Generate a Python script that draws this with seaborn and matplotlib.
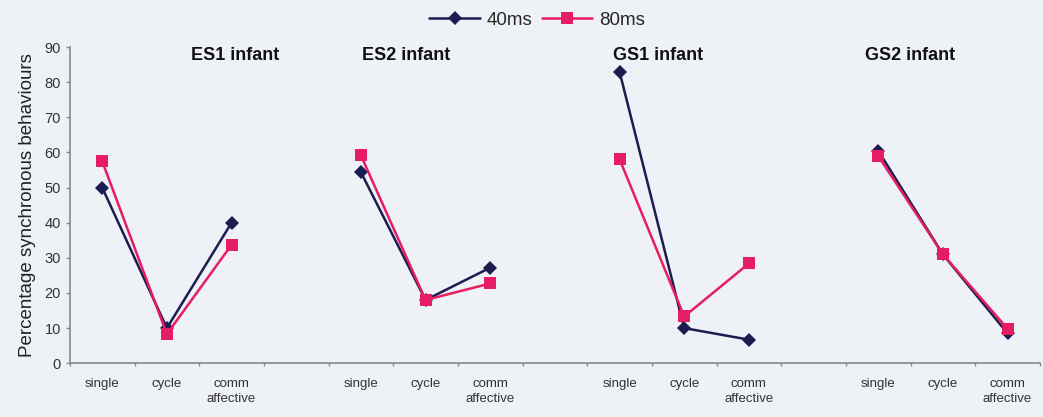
import pandas as pd
import seaborn as sns
import matplotlib.pyplot as plt
import numpy as np

# Data
groups = ['ES1 infant', 'ES2 infant', 'GS1 infant', 'GS2 infant']
behaviours = ['single', 'cycle', 'comm\naffective']
series = ['40ms', '80ms']

es1_40 = [50, 10, 40]
es1_80 = [57.5, 8.3, 33.7]
es2_40 = [54.4, 18, 27.2]
es2_80 = [59.2, 18, 22.7]
gs1_40 = [83, 10, 6.7]
gs1_80 = [58.1, 13.3, 28.4]
gs2_40 = [60.5, 31, 8.5]
gs2_80 = [59, 31, 9.8]

values = {
    '40ms': [es1_40, es2_40, gs1_40, gs2_40],
    '80ms': [es1_80, es2_80, gs1_80, gs2_80],
}

# long table, one empty category between groups
rows = []
for s in series:
    for g, grp in enumerate(groups):
        for b, beh in enumerate(behaviours):
            rows.append({'pos': g * (len(behaviours) + 1) + b, 'group': grp,
                         'behaviour': beh, 'series': s, 'value': values[s][g][b]})
df = pd.DataFrame(rows)
n_cat = len(groups) * (len(behaviours) + 1) - 1

sns.set_theme(style='white')
plt.rcParams['font.family'] = ['Liberation Sans', 'DejaVu Sans']

bg = '#eef1f6'
colors = {'40ms': '#1c1c50', '80ms': '#e61d64'}

fig, ax = plt.subplots(figsize=(10.43, 4.17), dpi=100)
fig.patch.set_facecolor(bg)
ax.set_facecolor(bg)
fig.subplots_adjust(left=0.067, right=0.997, bottom=0.129, top=0.887)

sns.lineplot(data=df, x='pos', y='value', hue='series', style='series',
             units='group', estimator=None, palette=colors,
             markers={'40ms': 'D', '80ms': 's'}, dashes=False,
             linewidth=1.8, markersize=8, markeredgewidth=0, ax=ax, legend=False)
# diamonds a bit smaller than squares
for line in ax.get_lines():
    if line.get_marker() == 'D':
        line.set_markersize(7)
    elif line.get_marker() == 's':
        line.set_markersize(9)

ax.set_xlim(-0.5, n_cat - 0.5)
ax.set_ylim(0, 90)
ax.set_yticks(np.arange(0, 91, 10))
ax.set_ylabel('Percentage synchronous behaviours', fontsize=13.5, color='#222222',
              labelpad=6)
ax.set_xlabel('')

pos_labels = df[df['series'] == '40ms']
ax.set_xticks(pos_labels['pos'])
ax.set_xticklabels(pos_labels['behaviour'], fontsize=9.5, color='#333333',
                   linespacing=1.3, va='top')
ax.set_xticks(np.arange(-0.5, n_cat, 1), minor=True)
ax.tick_params(axis='x', which='major', length=0, pad=11, bottom=True)
ax.tick_params(axis='x', which='minor', length=2.5, width=1, color='#888888',
               direction='out', bottom=True)
ax.tick_params(axis='y', length=3, width=1, color='#888888', direction='out',
               labelsize=10.5, labelcolor='#333333', left=True)

for side in ['top', 'right']:
    ax.spines[side].set_visible(False)
for side in ['left', 'bottom']:
    ax.spines[side].set_color('#888888')
    ax.spines[side].set_linewidth(1.2)

# group titles
title_x = [2.05, 4.7, 8.6, 12.5]
for tx, grp in zip(title_x, groups):
    ax.text(tx, 87.5, grp, ha='center', va='center', fontsize=13,
            fontweight='bold', color='#111111')

handles = [plt.Line2D([], [], color=colors[s], marker=m, markersize=ms,
                      markeredgewidth=0, linewidth=1.8)
           for s, m, ms in zip(series, ['D', 's'], [7, 9])]
fig.legend(handles, series, loc='center', bbox_to_anchor=(0.515, 0.952), ncol=2,
           frameon=False, fontsize=13.5, handlelength=2.7, columnspacing=0.5,
           handletextpad=0.35)

fig.savefig('out.png', dpi=100, facecolor=bg)
